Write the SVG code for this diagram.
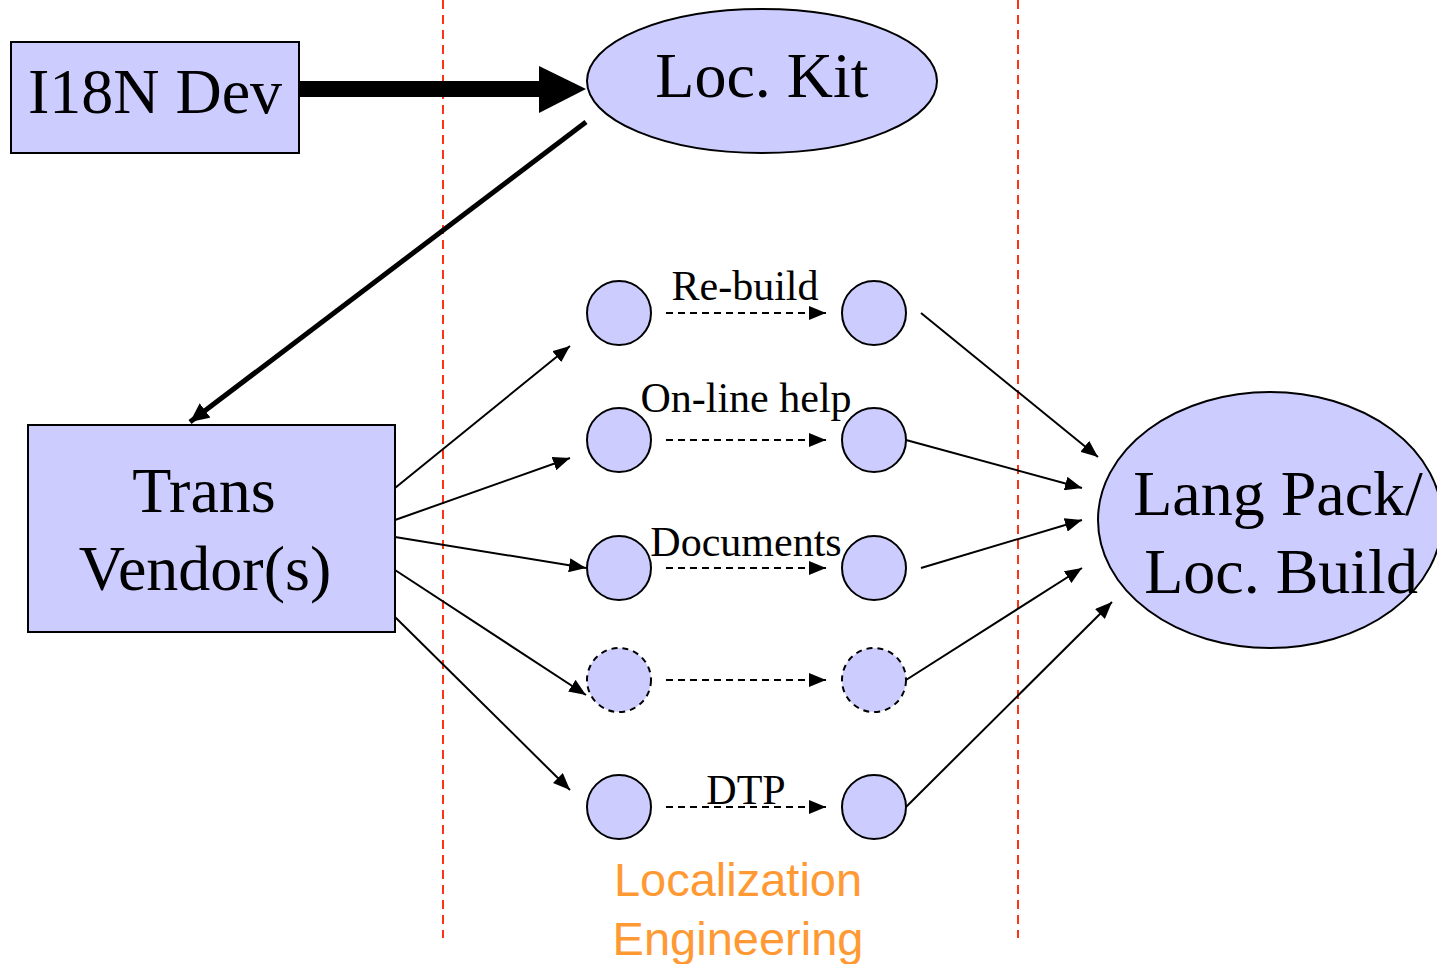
<svg xmlns="http://www.w3.org/2000/svg" width="1437" height="964" viewBox="0 0 1437 964">
<defs>
<marker id="ah" markerUnits="userSpaceOnUse" markerWidth="18" markerHeight="14" refX="17" refY="7" orient="auto"><path d="M0,0 L17,7 L0,14 Z" fill="#000"/></marker>
<marker id="ahb" markerUnits="userSpaceOnUse" markerWidth="20" markerHeight="18" refX="19" refY="9" orient="auto"><path d="M0,0 L19,9 L0,18 Z" fill="#000"/></marker>
<style>
.box{fill:#ccccff;stroke:#000;stroke-width:2}
.c{fill:#ccccff;stroke:#000;stroke-width:2}
.cd{fill:#ccccff;stroke:#000;stroke-width:2;stroke-dasharray:6,5}
.t{font-family:"Liberation Serif","Times New Roman",serif;fill:#000;text-anchor:middle}
.big{font-size:64px}
.lbl{font-size:42px}
.e{stroke:#000;stroke-width:2;fill:none;marker-end:url(#ah)}
.d{stroke:#000;stroke-width:2;fill:none;stroke-dasharray:7,5;marker-end:url(#ah)}
.red{stroke:#ff3311;stroke-width:2;stroke-dasharray:9,6;fill:none}
.or{font-family:"Liberation Sans",Arial,sans-serif;font-size:47px;fill:#ff9933;text-anchor:middle}
</style>
</defs>
<g id="guides">
<line class="red" x1="443" y1="0" x2="443" y2="938"/>
<line class="red" x1="1018" y1="0" x2="1018" y2="938"/>
</g>
<g id="i18n"><rect class="box" x="11" y="42" width="288" height="111"/><text class="t big" x="155" y="113">I18N Dev</text></g>
<g id="lockit"><ellipse class="box" cx="762" cy="81" rx="175" ry="72"/><text class="t big" x="762" y="97">Loc. Kit</text></g>
<g id="vendor"><rect class="box" x="28" y="425" width="367" height="207"/><text class="t big" x="204" y="512">Trans</text><text class="t big" x="205" y="590">Vendor(s)</text></g>
<g id="langpack"><ellipse class="box" cx="1270" cy="520" rx="172" ry="128"/><text class="t big" x="1278" y="515">Lang Pack/</text><text class="t big" x="1281" y="593">Loc. Build</text></g>
<g id="n1a"><circle class="c" cx="619" cy="313" r="32"/></g>
<g id="n1b"><circle class="c" cx="874" cy="313" r="32"/></g>
<g id="n2a"><circle class="c" cx="619" cy="440" r="32"/></g>
<g id="n2b"><circle class="c" cx="874" cy="440" r="32"/></g>
<g id="n3a"><circle class="c" cx="619" cy="568" r="32"/></g>
<g id="n3b"><circle class="c" cx="874" cy="568" r="32"/></g>
<g id="n4a"><circle class="cd" cx="619" cy="680" r="32"/></g>
<g id="n4b"><circle class="cd" cx="874" cy="680" r="32"/></g>
<g id="n5a"><circle class="c" cx="619" cy="807" r="32"/></g>
<g id="n5b"><circle class="c" cx="874" cy="807" r="32"/></g>
<g id="connectors">
<line x1="299" y1="89" x2="545" y2="89" stroke="#000" stroke-width="16"/>
<path d="M539,66 L586,89 L539,113 Z" fill="#000"/>
<line x1="586" y1="122" x2="190" y2="422" stroke="#000" stroke-width="5" marker-end="url(#ahb)"/>
<line class="e" x1="395" y1="488" x2="570" y2="346"/>
<line class="e" x1="395" y1="520" x2="570" y2="458"/>
<line class="e" x1="395" y1="537" x2="586" y2="568"/>
<line class="e" x1="395" y1="570" x2="586" y2="695"/>
<line class="e" x1="395" y1="617" x2="570" y2="790"/>
<line class="d" x1="666" y1="313" x2="826" y2="313"/>
<line class="d" x1="666" y1="440" x2="826" y2="440"/>
<line class="d" x1="666" y1="568" x2="826" y2="568"/>
<line class="d" x1="666" y1="680" x2="826" y2="680"/>
<line class="d" x1="666" y1="807" x2="826" y2="807"/>
<line class="e" x1="921" y1="313" x2="1098" y2="457"/>
<line class="e" x1="906" y1="440" x2="1082" y2="488"/>
<line class="e" x1="921" y1="568" x2="1082" y2="520"/>
<line class="e" x1="906" y1="680" x2="1082" y2="568"/>
<line class="e" x1="906" y1="807" x2="1112" y2="602"/>
</g>
<g id="labels">
<text class="t lbl" x="745" y="300">Re-build</text>
<text class="t lbl" x="746" y="412">On-line help</text>
<text class="t lbl" x="746" y="556">Documents</text>
<text class="t lbl" x="746" y="804">DTP</text>
<text class="or" x="738" y="896">Localization</text>
<text class="or" x="738" y="955">Engineering</text>
</g>
</svg>
